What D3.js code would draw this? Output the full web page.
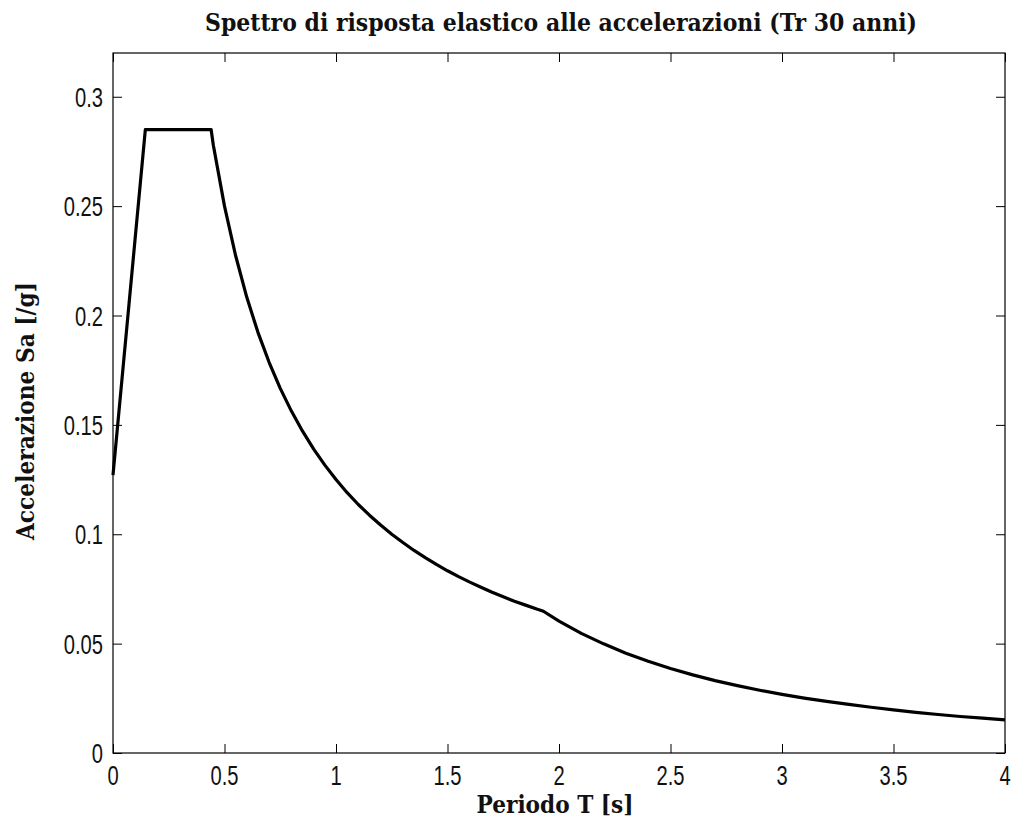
<!DOCTYPE html>
<html>
<head>
<meta charset="utf-8">
<script src="https://cdn.jsdelivr.net/npm/d3@7/dist/d3.min.js"></script>
<style>
  html, body { margin: 0; padding: 0; background: #fff; }
  svg { display: block; }
</style>
</head>
<body>
<svg id="chart" width="1015" height="831"></svg>
<script>
// Elastic response spectrum, Tr = 30 years: period T [s] and spectral acceleration Sa [g]
const periods = [
  0, 0.145, 0.44, 0.45, 0.5, 0.55, 0.6, 0.65, 0.7, 0.75, 0.8, 0.85, 0.9, 0.95,
  1.0, 1.05, 1.1, 1.15, 1.2, 1.25, 1.3, 1.35, 1.4, 1.45, 1.5, 1.55, 1.6, 1.65,
  1.7, 1.75, 1.8, 1.85, 1.9, 1.93, 2.0, 2.1, 2.2, 2.3, 2.4, 2.5, 2.6, 2.7, 2.8,
  2.9, 3.0, 3.1, 3.2, 3.3, 3.4, 3.5, 3.6, 3.7, 3.8, 3.9, 4.0
];
const accelerations = [
  0.127, 0.285, 0.285, 0.2778, 0.25, 0.2273, 0.2083, 0.1923, 0.1786, 0.1667, 0.1563, 0.1471, 0.1389, 0.1316,
  0.125, 0.119, 0.1136, 0.1087, 0.1042, 0.1, 0.0962, 0.0926, 0.0893, 0.0862, 0.0833, 0.0806, 0.0781, 0.0758,
  0.0735, 0.0714, 0.0694, 0.0676, 0.0658, 0.0648, 0.0603, 0.0547, 0.0499, 0.0456, 0.0419, 0.0386, 0.0357, 0.0331, 0.0308,
  0.0287, 0.0268, 0.0251, 0.0236, 0.0222, 0.0209, 0.0197, 0.0186, 0.0176, 0.0167, 0.0159, 0.0151
];
const xTicks = [0, 0.5, 1, 1.5, 2, 2.5, 3, 3.5, 4];
const yTicks = [0, 0.05, 0.1, 0.15, 0.2, 0.25, 0.3];
const xTickLabels = ["0", "0.5", "1", "1.5", "2", "2.5", "3", "3.5", "4"];
const yTickLabels = ["0", "0.05", "0.1", "0.15", "0.2", "0.25", "0.3"];

const titleText = "Spettro di risposta elastico alle accelerazioni (Tr 30 anni)";
const xLabelText = "Periodo T [s]";
const yLabelText = "Accelerazione Sa [/g]";

const box = { left: 113, right: 1005, top: 53, bottom: 753 };

const svg = d3.select("#chart");
svg.append("rect").attr("width", 1015).attr("height", 831).attr("fill", "#fff");

const x = d3.scaleLinear().domain([0, 4]).range([box.left, box.right]);
const y = d3.scaleLinear().domain([0, 0.32]).range([box.bottom, box.top]);

const tickFont = "'Liberation Sans', Arial, sans-serif";
const labelFont = "'DejaVu Serif', 'Liberation Serif', serif";
const tickLen = 9;

// Axes with inward ticks on all four sides (boxed plot)
function styleAxis(g) {
  g.select(".domain").remove();
  g.selectAll(".tick line").attr("stroke", "#000").attr("stroke-width", 1);
  g.selectAll(".tick text").remove();
}

svg.append("g")
  .attr("transform", `translate(0,${box.bottom})`)
  .call(d3.axisTop(x).tickValues(xTicks).tickSize(tickLen))
  .call(styleAxis);
svg.append("g")
  .attr("transform", `translate(0,${box.top})`)
  .call(d3.axisBottom(x).tickValues(xTicks).tickSize(tickLen))
  .call(styleAxis);
svg.append("g")
  .attr("transform", `translate(${box.left},0)`)
  .call(d3.axisRight(y).tickValues(yTicks).tickSize(tickLen))
  .call(styleAxis);
svg.append("g")
  .attr("transform", `translate(${box.right},0)`)
  .call(d3.axisLeft(y).tickValues(yTicks).tickSize(tickLen))
  .call(styleAxis);

// Condensed tick labels
const sx = 0.72;
svg.append("g").selectAll("text")
  .data(xTicks)
  .join("text")
  .attr("transform", (d) => `translate(${x(d)},785) scale(${sx},1)`)
  .attr("text-anchor", "middle")
  .attr("font-family", tickFont)
  .attr("font-size", 28)
  .attr("fill", "#111")
  .text((d, i) => xTickLabels[i]);

svg.append("g").selectAll("text")
  .data(yTicks)
  .join("text")
  .attr("transform", (d) => `translate(103,${y(d) + 10}) scale(${sx},1)`)
  .attr("text-anchor", "end")
  .attr("font-family", tickFont)
  .attr("font-size", 28)
  .attr("fill", "#111")
  .text((d, i) => yTickLabels[i]);

// Spectrum curve
const points = periods.map((t, i) => [t, accelerations[i]]);
svg.append("path")
  .datum(points)
  .attr("fill", "none")
  .attr("stroke", "#000")
  .attr("stroke-width", 3.2)
  .attr("stroke-linejoin", "round")
  .attr("d", d3.line().x((d) => x(d[0])).y((d) => y(d[1])));

// Frame
svg.append("rect")
  .attr("x", box.left).attr("y", box.top)
  .attr("width", box.right - box.left).attr("height", box.bottom - box.top)
  .attr("fill", "none").attr("stroke", "#000").attr("stroke-width", 1.2);

// Title and axis labels (condensed bold serif)
svg.append("text")
  .attr("x", 561).attr("y", 31)
  .attr("text-anchor", "middle")
  .attr("font-family", labelFont).attr("font-weight", "bold").attr("font-size", 24)
  .attr("textLength", 712).attr("lengthAdjust", "spacingAndGlyphs")
  .attr("fill", "#111")
  .text(titleText);

svg.append("text")
  .attr("x", 555).attr("y", 813)
  .attr("text-anchor", "middle")
  .attr("font-family", labelFont).attr("font-weight", "bold").attr("font-size", 24)
  .attr("textLength", 157).attr("lengthAdjust", "spacingAndGlyphs")
  .attr("fill", "#111")
  .text(xLabelText);

svg.append("text")
  .attr("transform", "translate(34,411) rotate(-90)")
  .attr("text-anchor", "middle")
  .attr("font-family", labelFont).attr("font-weight", "bold").attr("font-size", 24)
  .attr("textLength", 258).attr("lengthAdjust", "spacingAndGlyphs")
  .attr("fill", "#111")
  .text(yLabelText);
</script>
</body>
</html>
